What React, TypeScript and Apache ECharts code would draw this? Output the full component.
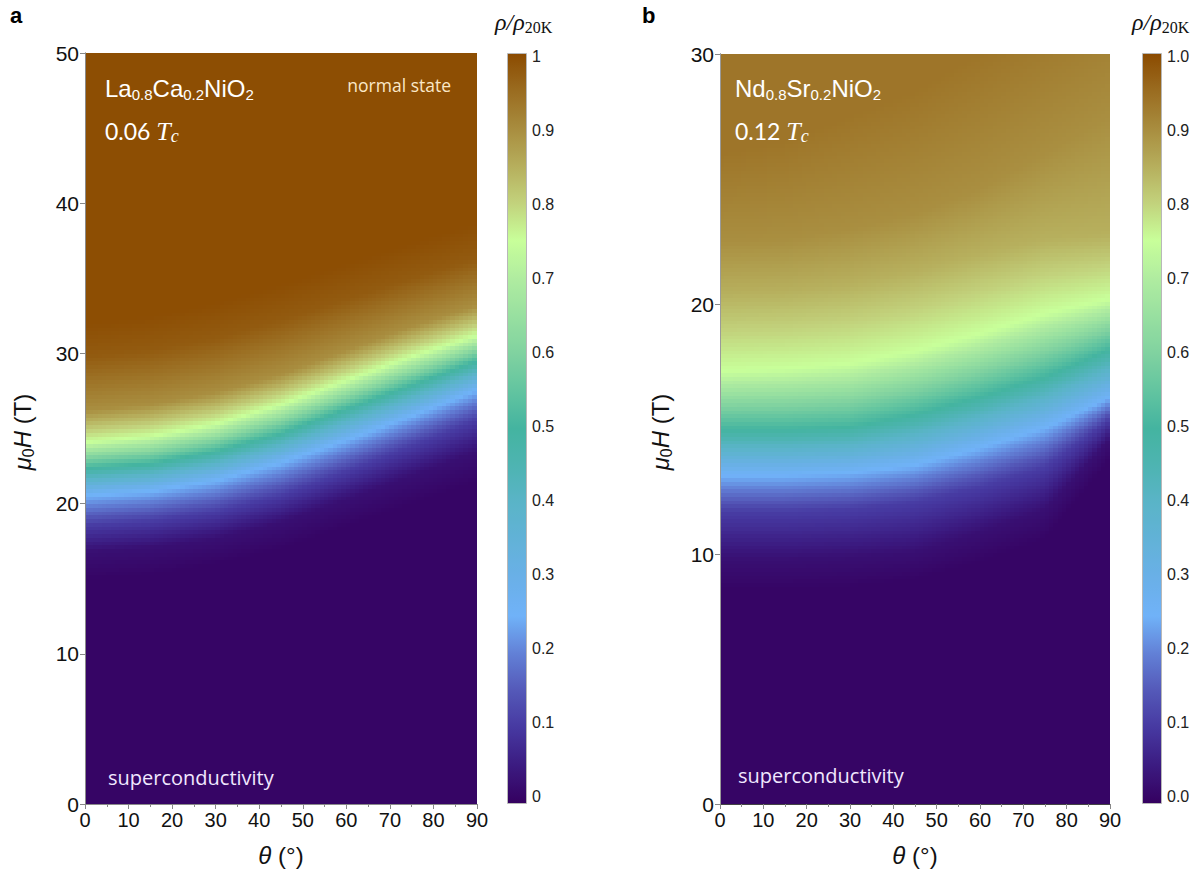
import { useEffect, useRef } from 'react';
import * as echarts from 'echarts';

// ---- angle axis ----
const THETA_MAX = 90;
const THETA_KNOTS = [0, 15, 30, 45, 60, 75, 90];

// ---- panel a: La0.8Ca0.2NiO2 at 0.06 Tc ----
// field (T) at which rho/rho20K reaches each level, listed per angle knot
const H_MAX_A = 50;
const LEVELS_A = [0, 0.02, 0.1, 0.25, 0.5, 0.75, 0.9, 0.98, 1.0];
const HA_000 = [15.0, 15.3, 16.0, 17.0, 18.5, 20.0, 21.5];
const HA_002 = [16.8, 17.1, 17.7, 18.8, 20.3, 21.9, 23.5];
const HA_010 = [18.6, 18.9, 19.5, 20.6, 22.2, 23.9, 25.6];
const HA_025 = [20.6, 20.9, 21.6, 22.8, 24.3, 25.9, 27.6];
const HA_050 = [22.4, 22.7, 23.5, 24.7, 26.3, 27.9, 29.5];
const HA_075 = [24.1, 24.5, 25.3, 26.6, 28.2, 29.8, 31.2];
const HA_090 = [26.2, 26.6, 27.4, 28.6, 30.2, 31.8, 33.2];
const HA_098 = [29.8, 30.2, 31.0, 32.2, 33.6, 35.0, 36.3];
const HA_100 = [32.0, 32.5, 33.4, 34.6, 36.0, 37.4, 38.7];
const CONTOURS_A = [HA_000, HA_002, HA_010, HA_025, HA_050, HA_075, HA_090, HA_098, HA_100];

// ---- panel b: Nd0.8Sr0.2NiO2 at 0.12 Tc ----
const H_MAX_B = 30;
const LEVELS_B = [0, 0.02, 0.1, 0.25, 0.5, 0.75, 0.85, 0.9, 0.94];
const HB_000 = [8.6, 8.6, 8.7, 9.0, 9.7, 10.6, 13.8];
const HB_002 = [9.8, 9.8, 9.9, 10.1, 10.9, 11.8, 14.6];
const HB_010 = [11.7, 11.7, 11.8, 12.1, 12.7, 13.5, 15.4];
const HB_025 = [13.2, 13.2, 13.3, 13.6, 14.3, 15.1, 16.3];
const HB_050 = [15.0, 15.0, 15.1, 15.6, 16.3, 17.1, 18.2];
const HB_075 = [17.3, 17.4, 17.6, 18.1, 18.8, 19.6, 20.2];
const HB_085 = [20.4, 20.5, 20.8, 21.3, 22.0, 22.6, 22.8];
const HB_090 = [22.5, 22.6, 23.0, 23.6, 24.6, 26.0, 27.5];
const HB_094 = [26.0, 26.5, 27.5, 28.5, 30.0, 31.5, 33.0];
const CONTOURS_B = [HB_000, HB_002, HB_010, HB_025, HB_050, HB_075, HB_085, HB_090, HB_094];

// ---- colour bar ----
const COLORBAR_TICKS = [0, 0.1, 0.2, 0.3, 0.4, 0.5, 0.6, 0.7, 0.8, 0.9, 1];
const COLORBAR_MIN = -0.0095;
const COLORBAR_MAX = 1.0054;
// colours at rho/rho20K = 0, 0.05, ..., 1
const COLORMAP = [
  '#35005f', '#3b1a80', '#4638a0', '#5458b8', '#6280d6',
  '#70b2f8', '#6ab0e8', '#62b2d8', '#5ab4c8', '#4eb4b2',
  '#44b4a0', '#62c4a0', '#80d2a0', '#98e0a0', '#b0eca0',
  '#c8ff9a', '#c2d27c', '#b6ae5c', '#a88c3e', '#9a6c20',
  '#8b4a00',
];

const COLS = 90;
const ROWS = 200;

const SANS = '"Liberation Sans", Arial, sans-serif';
const SOFT = '"Open Sans", Lato, sans-serif';
const DIGITS = 'Lato, "Open Sans", sans-serif';
const SERIF = '"Liberation Serif", "DejaVu Serif", serif';

function lerp1(xs: number[], ys: number[], x: number) {
  if (x <= xs[0]) return ys[0];
  for (let k = 1; k < xs.length; k++) {
    if (x <= xs[k]) {
      const t = (x - xs[k - 1]) / (xs[k] - xs[k - 1]);
      return ys[k - 1] + t * (ys[k] - ys[k - 1]);
    }
  }
  return ys[ys.length - 1];
}

function ratioAt(levels: number[], contours: number[][], theta: number, h: number) {
  const hs = contours.map((c) => lerp1(THETA_KNOTS, c, theta));
  return lerp1(hs, levels, h);
}

// cells as [theta centre, field centre, rho/rho20K]
function buildCells(levels: number[], contours: number[][], hMax: number) {
  const data: number[][] = [];
  for (let i = 0; i < COLS; i++) {
    const theta = ((i + 0.5) * THETA_MAX) / COLS;
    for (let j = 0; j < ROWS; j++) {
      const h = ((j + 0.5) * hMax) / ROWS;
      data.push([+theta.toFixed(4), +h.toFixed(4), +ratioAt(levels, contours, theta, h).toFixed(4)]);
    }
  }
  return data;
}

function cellRenderer(hMax: number) {
  const dT = THETA_MAX / COLS;
  const dH = hMax / ROWS;
  return (_params: any, api: any) => {
    const th = api.value(0);
    const h = api.value(1);
    const p0 = api.coord([th - dT / 2, h + dH / 2]);
    const p1 = api.coord([th + dT / 2, h - dH / 2]);
    const x0 = Math.floor(p0[0]);
    const y0 = Math.floor(p0[1]);
    return {
      type: 'rect',
      shape: { x: x0, y: y0, width: Math.ceil(p1[0]) - x0, height: Math.ceil(p1[1]) - y0 },
      style: { fill: api.visual('color') },
    };
  };
}

function lineX(gridIndex: number, color: string) {
  return {
    type: 'value', gridIndex, min: 0, max: THETA_MAX, position: 'top', z: 5,
    axisLine: { show: true, lineStyle: { color, width: 1 } },
    axisTick: { show: false }, axisLabel: { show: false }, splitLine: { show: false },
  };
}
function lineY(gridIndex: number, hMax: number, color: string) {
  return {
    type: 'value', gridIndex, min: 0, max: hMax, position: 'right', z: 5,
    axisLine: { show: true, lineStyle: { color, width: 1 } },
    axisTick: { show: false }, axisLabel: { show: false }, splitLine: { show: false },
  };
}
function valX(gridIndex: number, color: string) {
  return {
    type: 'value', gridIndex, min: 0, max: THETA_MAX, interval: 10, position: 'bottom', z: 5,
    axisLine: { show: true, lineStyle: { color, width: 1 } },
    axisTick: { show: true, length: 5, lineStyle: { color: '#888' } },
    minorTick: { show: true, splitNumber: 2, length: 3, lineStyle: { color: '#888' } },
    axisLabel: { fontSize: 20, color: '#111', margin: 6, fontFamily: SANS },
    splitLine: { show: false },
  };
}
function valY(gridIndex: number, hMax: number, color: string) {
  return {
    type: 'value', gridIndex, min: 0, max: hMax, interval: 10, position: 'left', z: 5,
    axisLine: { show: true, lineStyle: { color, width: 1 } },
    axisTick: { show: true, length: 5, lineStyle: { color: '#888' } },
    axisLabel: { fontSize: 21, color: '#111', margin: 6, fontFamily: SANS },
    splitLine: { show: false },
  };
}
function barY(gridIndex: number, fmt: (v: number) => string) {
  return {
    type: 'value', gridIndex, min: COLORBAR_MIN, max: COLORBAR_MAX, position: 'right',
    axisLine: { show: false },
    axisTick: { show: true, length: 3, customValues: COLORBAR_TICKS, lineStyle: { color: '#888' } },
    axisLabel: { fontSize: 16, color: '#222', margin: 5, fontFamily: SANS, customValues: COLORBAR_TICKS, formatter: fmt },
    splitLine: { show: false },
  };
}
function hiddenX(gridIndex: number) {
  return { type: 'value', gridIndex, min: 0, max: 1, show: false };
}
function colorBar(seriesIndex: number, left: number) {
  return {
    type: 'continuous', seriesIndex, dimension: 2, min: COLORBAR_MIN, max: COLORBAR_MAX,
    inRange: { color: COLORMAP }, left, top: 53, itemWidth: 20, itemHeight: 751,
    padding: 0, calculable: false, hoverLink: false, text: null, orient: 'vertical',
  };
}

const sub = (size: number, family: string) => ({
  fontSize: size, fontFamily: family, fill: '#fff', lineHeight: 14, verticalAlign: 'bottom',
});

function formulaText(x: number, a: string, b: string) {
  return {
    type: 'text', x, y: 88, z: 50,
    style: {
      text: `{m|${a}}{s|0.8}{m|${b}}{s|0.2}{m|NiO}{s|2}`,
      fill: '#fff', align: 'left', verticalAlign: 'middle',
      rich: {
        m: { fontSize: 24, fontFamily: SANS, fill: '#fff', lineHeight: 28, verticalAlign: 'middle' },
        s: sub(15, SANS),
      },
    },
  };
}
function tempText(x: number, frac: string) {
  return {
    type: 'text', x, y: 131, z: 50,
    style: {
      text: `{m|${frac} }{t|T}{s|c}`,
      fill: '#fff', align: 'left', verticalAlign: 'middle',
      rich: {
        m: { fontSize: 23, fontFamily: DIGITS, fill: '#fff', lineHeight: 28, verticalAlign: 'middle' },
        t: { fontSize: 26, fontFamily: SERIF, fontStyle: 'italic', fill: '#fff', lineHeight: 28, verticalAlign: 'middle' },
        s: { ...sub(18, SERIF), fontStyle: 'italic' },
      },
    },
  };
}
function yName(x: number) {
  return {
    type: 'text', x, y: 432, rotation: Math.PI / 2, z: 50,
    style: {
      text: '{i|μ}{s|0}{i|H}{n| (T)}',
      fill: '#111', align: 'center', verticalAlign: 'middle',
      rich: {
        i: { fontSize: 24, fontFamily: SANS, fontStyle: 'italic', fill: '#111', lineHeight: 28, verticalAlign: 'middle' },
        n: { fontSize: 24, fontFamily: SANS, fill: '#111', lineHeight: 28, verticalAlign: 'middle' },
        s: { fontSize: 16, fontFamily: SANS, fill: '#111', lineHeight: 14, verticalAlign: 'bottom' },
      },
    },
  };
}
function xName(x: number) {
  return {
    type: 'text', x, y: 855, z: 50,
    style: {
      text: '{i|θ}{n| (°)}',
      fill: '#111', align: 'center', verticalAlign: 'middle',
      rich: {
        i: { fontSize: 24, fontFamily: SANS, fontStyle: 'italic', fill: '#111' },
        n: { fontSize: 24, fontFamily: SANS, fill: '#111' },
      },
    },
  };
}
function barTitle(x: number) {
  return {
    type: 'text', x, y: 22, z: 50,
    style: {
      text: '{r|ρ/ρ}{s|20K}',
      fill: '#111', align: 'left', verticalAlign: 'middle',
      rich: {
        r: { fontSize: 24, fontFamily: SERIF, fontStyle: 'italic', fill: '#111', lineHeight: 26, verticalAlign: 'middle' },
        s: { fontSize: 16, fontFamily: SERIF, fill: '#111', lineHeight: 14, verticalAlign: 'bottom' },
      },
    },
  };
}
function plainText(x: number, y: number, text: string, size: number, fill: string, family: string, align = 'left', weight = 'normal') {
  return {
    type: 'text', x, y, z: 50,
    style: { text, fill, fontSize: size, fontFamily: family, fontWeight: weight, align, verticalAlign: 'middle' },
  };
}
function barFrame(x: number) {
  return {
    type: 'rect', z: 60, shape: { x: x + 0.5, y: 53.5, width: 19, height: 750 },
    style: { fill: 'none', stroke: '#b8b8b8', lineWidth: 1 },
  };
}

function fieldSeries(xAxisIndex: number, yAxisIndex: number, hMax: number, levels: number[], contours: number[][]) {
  return {
    type: 'custom', xAxisIndex, yAxisIndex, silent: true, clip: true,
    progressive: 0, progressiveThreshold: 1e7,
    encode: { x: 0, y: 1 }, renderItem: cellRenderer(hMax),
    data: buildCells(levels, contours, hMax),
  };
}

function buildOption() {
  const frameA = '#8a8a8a';
  const frameB = '#444';
  return {
    animation: false,
    textStyle: { fontFamily: SANS },
    grid: [
      { left: 85, top: 53, width: 392, height: 751 },
      { left: 720, top: 54, width: 390, height: 750 },
      { left: 507, top: 53, width: 20, height: 751 },
      { left: 1142, top: 53, width: 20, height: 751 },
    ],
    xAxis: [valX(0, frameA), lineX(0, frameA), valX(1, frameB), lineX(1, frameB), hiddenX(2), hiddenX(3)],
    yAxis: [
      valY(0, H_MAX_A, frameA), lineY(0, H_MAX_A, frameA),
      valY(1, H_MAX_B, frameB), lineY(1, H_MAX_B, '#9a9a9a'),
      barY(2, (v: number) => String(v)),
      barY(3, (v: number) => v.toFixed(1)),
    ],
    visualMap: [colorBar(0, 507), colorBar(1, 1142)],
    series: [
      fieldSeries(0, 0, H_MAX_A, LEVELS_A, CONTOURS_A),
      fieldSeries(2, 2, H_MAX_B, LEVELS_B, CONTOURS_B),
    ],
    graphic: [
      plainText(10, 15, 'a', 22, '#000', SANS, 'left', 'bold'),
      plainText(642, 15, 'b', 22, '#000', SANS, 'left', 'bold'),
      formulaText(105, 'La', 'Ca'),
      formulaText(735, 'Nd', 'Sr'),
      tempText(105, '0.06'),
      tempText(735, '0.12'),
      plainText(451, 85, 'normal state', 17.5, '#fbe8c8', SOFT, 'right'),
      plainText(108, 777, 'superconductivity', 20, '#f1e8ff', SOFT),
      plainText(738, 775, 'superconductivity', 20, '#f1e8ff', SOFT),
      yName(22),
      yName(660),
      xName(281),
      xName(915),
      barTitle(495),
      barTitle(1132),
      barFrame(507),
      barFrame(1142),
    ],
  };
}

export default function App() {
  const ref = useRef<HTMLDivElement>(null);
  useEffect(() => {
    document.body.style.margin = '0';
    const chart = echarts.init(ref.current!, null, { renderer: 'svg' });
    chart.setOption(buildOption() as any);
    return () => chart.dispose();
  }, []);
  return <div ref={ref} style={{ width: 1203, height: 872 }} />;
}
